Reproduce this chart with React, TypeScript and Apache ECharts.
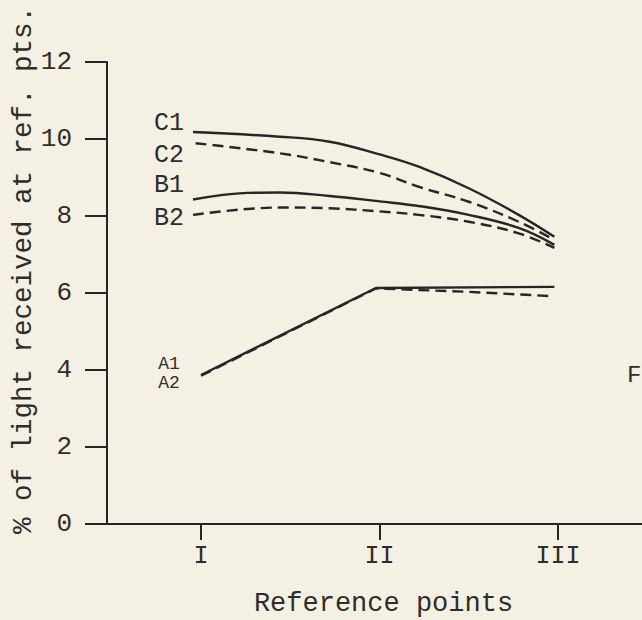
import React, { useEffect, useRef } from "react";
import * as echarts from "echarts";

const xTickValues = [1, 2, 3];
const xTickLabels = ["I", "II", "III"];
const yTicks = [0, 2, 4, 6, 8, 10, 12];

const seriesNames = ["C1", "C2", "B1", "B2", "A1", "A2"];
const c1: number[][] = [[0.955, 10.18], [1.44, 10.06], [1.72, 9.93], [2.0, 9.6], [2.22, 9.28], [2.5, 8.72], [2.78, 8.03], [2.98, 7.46]];
const c2: number[][] = [[0.97, 9.89], [1.44, 9.63], [1.72, 9.4], [2.0, 9.12], [2.22, 8.76], [2.5, 8.37], [2.78, 7.85], [2.98, 7.38]];
const b1: number[][] = [[0.955, 8.43], [1.26, 8.6], [1.44, 8.61], [1.72, 8.52], [2.0, 8.38], [2.22, 8.26], [2.5, 8.03], [2.78, 7.69], [2.98, 7.25]];
const b2: number[][] = [[0.955, 8.03], [1.44, 8.22], [1.72, 8.2], [2.0, 8.12], [2.22, 8.03], [2.5, 7.85], [2.78, 7.55], [2.98, 7.17]];
const a1: number[][] = [[1.0, 3.87], [1.98, 6.13], [2.98, 6.16]];
const a2: number[][] = [[1.0, 3.85], [1.98, 6.12], [2.5, 6.03], [2.96, 5.92]];

const FONT = "'Liberation Mono', 'DejaVu Sans Mono', monospace";
const INK = "#262626";
const TEXT = "#2f2d2b";
const PAPER = "#f4f0e3";

export default function App() {
  const ref = useRef<HTMLDivElement>(null);
  useEffect(() => {
    if (!ref.current) return;
    const chart = echarts.init(ref.current, undefined, { renderer: "svg" });
    const mk = (name: string, data: number[][], dashed: boolean, smooth: boolean) => ({
      name,
      type: "line",
      data,
      smooth: smooth ? 0.4 : false,
      showSymbol: false,
      symbol: "none",
      lineStyle: { color: INK, width: 2.4, type: dashed ? [11, 6] : "solid" },
      z: dashed ? 3 : 2,
    });
    const labelStyle = (text: string, x: number, y: number, size = 25, align = "center") => ({
      type: "text",
      x,
      y,
      style: { text, font: `${size}px ${FONT}`, fill: TEXT, textAlign: align, textVerticalAlign: "middle" },
    });
    chart.setOption({
      animation: false,
      backgroundColor: PAPER,
      grid: { left: 107, top: 62, right: 0, bottom: 96, containLabel: false, outerBoundsMode: "none" },
      xAxis: {
        type: "value",
        min: 0.473,
        max: 3.471,
        name: "Reference points",
        nameLocation: "middle",
        nameGap: 66,
        nameMoveOverlap: false,
        nameTextStyle: { fontFamily: FONT, fontSize: 27, color: TEXT, padding: [0, 0, 0, 18] },
        axisLine: { show: true, onZero: false, lineStyle: { color: INK, width: 2 } },
        axisTick: { show: true, length: 16, customValues: xTickValues, lineStyle: { color: INK, width: 2 } },
        axisLabel: {
          show: true,
          customValues: xTickValues,
          margin: 20,
          fontFamily: FONT,
          fontSize: 25,
          color: TEXT,
          formatter: (v: number) => xTickLabels[xTickValues.indexOf(Math.round(v))] ?? "",
        },
        splitLine: { show: false },
      },
      yAxis: {
        type: "value",
        min: 0,
        max: 12,
        interval: 2,
        name: "% of light received at ref. pts.",
        nameLocation: "middle",
        nameGap: 70,
        nameMoveOverlap: false,
        nameTextStyle: { fontFamily: FONT, fontSize: 27.5, color: TEXT, padding: [0, 0, 0, 46] },
        axisLine: { show: true, lineStyle: { color: INK, width: 2 } },
        axisTick: { show: true, length: 22, lineStyle: { color: INK, width: 2 } },
        axisLabel: {
          show: true,
          margin: 35,
          fontFamily: FONT,
          fontSize: 26,
          color: TEXT,
          formatter: (v: number) => (yTicks.includes(v) ? String(v) : ""),
        },
        splitLine: { show: false },
      },
      graphic: [
        labelStyle(seriesNames[0], 169, 123),
        labelStyle(seriesNames[1], 169, 155),
        labelStyle(seriesNames[2], 169, 185),
        labelStyle(seriesNames[3], 169, 218),
        labelStyle(seriesNames[4], 169, 364, 18),
        labelStyle(seriesNames[5], 169, 383, 18),
        labelStyle("F", 627, 375, 24, "left"),
      ],
      series: [
        mk(seriesNames[0], c1, false, true),
        mk(seriesNames[1], c2, true, true),
        mk(seriesNames[2], b1, false, true),
        mk(seriesNames[3], b2, true, true),
        mk(seriesNames[4], a1, false, false),
        mk(seriesNames[5], a2, true, false),
      ],
    });
    return () => chart.dispose();
  }, []);
  return <div ref={ref} style={{ position: "fixed", left: 0, top: 0, width: 642, height: 620 }} />;
}
